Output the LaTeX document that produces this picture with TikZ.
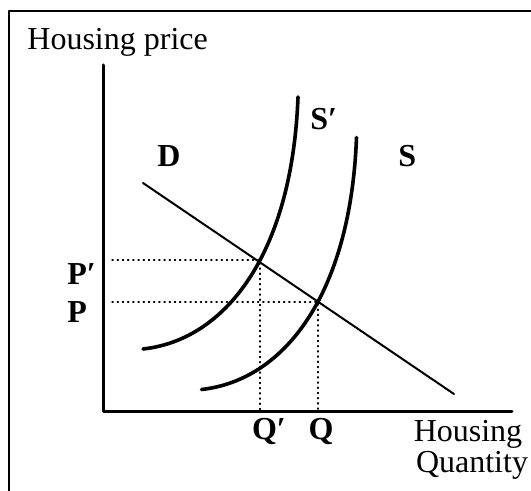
\documentclass[tikz,border=0pt]{standalone}
\usepackage{fontspec}
\setmainfont{Liberation Serif}
\begin{document}
\begin{tikzpicture}[x=0.5pt, y=-0.5pt, line cap=round, line join=round,
  texto/.style={font=\fontsize{16}{19}\selectfont, inner sep=0pt},
  etiq/.style={texto, font=\fontsize{16}{19}\selectfont\bfseries},
  curva/.style={line width=1.8pt}]
  \useasboundingbox (0,0) rectangle (531,491);
  % el marco
  \draw[line width=1pt] (9,491) -- (9,11) -- (531,11);
  % los ejes
  \coordinate (O) at (103,412);
  \draw[line width=1.5pt] (103,65) -- (O) -- (512,412);
  % los dos equilibrios y sus lineas de puntos
  \coordinate (E1) at (260,260);
  \coordinate (E0) at (318,302);
  \draw[dotted, line width=0.6pt] (112,260) -- (E1) -- (E1 |- O);
  \draw[dotted, line width=0.6pt] (112,302) -- (E0) -- (E0 |- O);
  % la demanda
  \draw[line width=1pt] (143,183) -- (454,394);
  % la oferta S' y la oferta S (la misma curva, desplazada)
  \draw[curva] (143,349) .. controls (225,340) and (292,255) .. (298,97);
  \draw[curva, shift={(58.5,40.5)}] (143,349) .. controls (225,340) and (292,255) .. (298,97);
  % los rotulos
  \node[texto, anchor=base west] (precio) at (27,50) {Housing price};
  \node[etiq, anchor=base west] (D) at (157,167) {D};
  \node[etiq, anchor=base west] (Sp) at (310,130) {S′};
  \node[etiq, anchor=base west] (S) at (398,167) {S};
  \node[etiq, anchor=base west] (Pp) at (67,285) {P′};
  \node[etiq, anchor=base west] (P) at (67,323) {P};
  \node[etiq, anchor=base] (Qp) at (269,440) {Q′};
  \node[etiq, anchor=base] (Q) at (321,440) {Q};
  \node[texto, anchor=base] (vivienda) at (468,442) {Housing};
  \node[texto, anchor=base] (cantidad) at (472,473) {Quantity};
\end{tikzpicture}
\end{document}
